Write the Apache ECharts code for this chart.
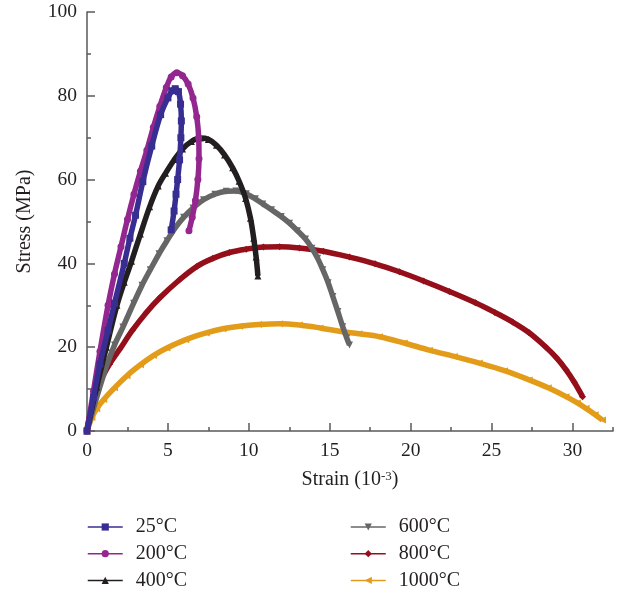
<!DOCTYPE html>
<html>
<head>
<meta charset="utf-8">
<script src="https://cdn.jsdelivr.net/npm/echarts@6/dist/echarts.min.js"></script>
<style>
  html, body { margin: 0; padding: 0; background: #ffffff; }
  #chart { width: 619px; height: 591px; }
</style>
</head>
<body>
<div id="chart"></div>
<script>
// Stress–strain curves of specimens after exposure to different temperatures.
// Each point is [strain (10^-3), stress (MPa)].
const seriesNames = ['25°C', '200°C', '400°C', '600°C', '800°C', '1000°C'];
const seriesColors = ['#382E92', '#93268F', '#231F20', '#666666', '#950F1A', '#E39C19'];
const seriesSymbols = ['rect', 'circle', 'triangle', 'triangle', 'diamond', 'triangle'];
const seriesSymbolRotate = [0, 0, 0, 180, 0, 90];

const curve25 = [
  [0, 0], [0.4, 8], [0.8, 16], [1.3, 24], [1.7, 30.5], [2.3, 40], [2.65, 46], [3.0, 51.5],
  [3.45, 59.5], [4.0, 68], [4.55, 75.5], [5.0, 79.5], [5.25, 81.2], [5.45, 81.7], [5.65, 81],
  [5.78, 78], [5.83, 74], [5.8, 70], [5.72, 64.7], [5.6, 60], [5.5, 56.5], [5.38, 52.5], [5.2, 48]
];
const curve200 = [
  [0, 0], [0.4, 9.5], [0.8, 19], [1.3, 30], [1.7, 37.5], [2.1, 44], [2.5, 50.5], [2.9, 56.5],
  [3.3, 62], [3.7, 67], [4.1, 72.5], [4.5, 77.5], [4.9, 82], [5.2, 84.5], [5.55, 85.5],
  [5.9, 84.8], [6.25, 82.8], [6.55, 79.5], [6.78, 75], [6.9, 70], [6.92, 65], [6.85, 60],
  [6.7, 55], [6.5, 51], [6.3, 47.8]
];
const curve400 = [
  [0, 0], [0.6, 10.5], [1.2, 20], [1.85, 30], [2.3, 35.5], [2.75, 40.5], [3.3, 47], [3.87, 53.5],
  [4.4, 58.5], [4.85, 61.5], [5.4, 64.8], [5.9, 67.3], [6.45, 69.1], [7.0, 69.9], [7.5, 69.6],
  [8.0, 68.2], [8.5, 65.9], [9.0, 62.8], [9.4, 59.6], [9.8, 55.5], [10.1, 50.8], [10.3, 46],
  [10.45, 41.5], [10.56, 37]
];
const curve600 = [
  [0, 0], [0.6, 8], [1.2, 15.4], [1.7, 20.5], [2.22, 24.8], [2.88, 30.5], [3.4, 34.8],
  [3.91, 38.5], [4.45, 42.3], [4.94, 45.4], [5.45, 48.5], [5.97, 51], [6.55, 53.2], [7.2, 55.2],
  [7.9, 56.5], [8.6, 57.2], [9.2, 57.3], [9.84, 56.6], [10.4, 55.4], [10.86, 54.2], [11.4, 52.8],
  [12.0, 51.2], [12.51, 49.6], [13.0, 47.8], [13.5, 45.8], [13.9, 43.6], [14.25, 41.2],
  [14.57, 38.5], [14.9, 35.4], [15.19, 32.1], [15.5, 28.5], [15.8, 24.9], [16.05, 22.2], [16.22, 20.5]
];
const curve800 = [
  [0, 0.5], [0.25, 5], [0.78, 11.4], [1.4, 16], [2.02, 19.5], [2.8, 24], [3.67, 28.3],
  [4.5, 31.8], [5.72, 36.1], [6.8, 39.3], [7.78, 41.2], [8.8, 42.6], [9.84, 43.4], [10.9, 43.9],
  [11.9, 44], [13.13, 43.7], [14.6, 42.9], [16.22, 41.5], [17.8, 39.9], [19.3, 38], [20.8, 35.8],
  [22.39, 33.3], [24.0, 30.6], [25.2, 28.3], [26.3, 26], [27.3, 23.5], [28.36, 20], [29.0, 17.5],
  [29.6, 14.6], [30.1, 11.7], [30.62, 8.2]
];
const curve1000 = [
  [0, 0], [0.3, 3.2], [0.6, 5.3], [1.03, 7.5], [1.7, 10.3], [2.47, 13.2], [3.3, 15.8], [4.1, 18],
  [4.94, 19.8], [6.1, 21.8], [7.37, 23.4], [8.4, 24.4], [9.43, 25], [10.6, 25.4], [11.9, 25.6],
  [13.13, 25.3], [14.4, 24.6], [15.6, 23.8], [16.8, 23.2], [18.07, 22.5], [19.6, 21], [21.15, 19.3],
  [22.7, 17.8], [24.24, 16.2], [25.8, 14.4], [27.32, 12.2], [28.5, 10.3], [29.6, 8.2], [30.3, 6.7],
  [30.83, 5.4], [31.4, 3.9], [31.85, 2.6]
];
const curves = [curve25, curve200, curve400, curve600, curve800, curve1000];

// Axis tick labels
const strainLabels = [0, 5, 10, 15, 20, 25, 30];
const stressLabels = [0, 20, 40, 60, 80, 100];

const axisColor = '#58595B';
const textColor = '#231F20';
const fontFamily = '"Liberation Serif", "DejaVu Serif", serif';

const chart = echarts.init(document.getElementById('chart'), null, { renderer: 'canvas' });

const gridBox = { left: 87, right: 6, top: 12, bottom: 160, outerBoundsMode: 'none' };

function legendBlock(names, left) {
  return {
    data: names,
    orient: 'vertical',
    left: left,
    top: 517,
    padding: 0,
    itemWidth: 35,
    itemHeight: 9,
    itemGap: 6.7,
    selectedMode: false,
    lineStyle: { width: 1.5 },
    textStyle: { fontFamily: fontFamily, fontSize: 20, color: textColor, lineHeight: 20, padding: [0, 0, 0, 8] }
  };
}

const option = {
  backgroundColor: '#ffffff',
  animation: false,
  textStyle: { fontFamily: fontFamily, color: textColor },
  grid: [
    Object.assign({}, gridBox),
    Object.assign({}, gridBox)
  ],
  legend: [
    legendBlock(seriesNames.slice(0, 3), 87),
    legendBlock(seriesNames.slice(3), 350)
  ],
  xAxis: [
    {
      gridIndex: 0,
      type: 'value',
      min: 0,
      max: 32.5,
      interval: 2.5,
      name: 'Strain (10{sup|-3})',
      nameLocation: 'middle',
      nameGap: 39,
      nameTextStyle: {
        fontFamily: fontFamily, fontSize: 20, color: textColor,
        rich: { sup: { fontFamily: fontFamily, fontSize: 13, color: textColor, verticalAlign: 'top', lineHeight: 13 } }
      },
      axisLine: { show: true, lineStyle: { color: axisColor, width: 1.5 } },
      axisTick: { show: true, inside: true, length: 4, lineStyle: { color: axisColor, width: 1.5 } },
      axisLabel: {
        customValues: strainLabels,
        margin: 10,
        fontFamily: fontFamily, fontSize: 19.5, color: textColor
      },
      splitLine: { show: false }
    },
    {
      gridIndex: 1,
      type: 'value',
      min: 0,
      max: 32.5,
      axisLine: { show: false },
      axisTick: { show: true, inside: true, length: 8, customValues: strainLabels, lineStyle: { color: axisColor, width: 1.5 } },
      axisLabel: { show: false },
      splitLine: { show: false }
    }
  ],
  yAxis: [
    {
      gridIndex: 0,
      type: 'value',
      min: 0,
      max: 100,
      interval: 20,
      name: 'Stress (MPa)',
      nameLocation: 'middle',
      nameGap: 52,
      nameTextStyle: { fontFamily: fontFamily, fontSize: 20, color: textColor },
      axisLine: { show: true, lineStyle: { color: axisColor, width: 1.5 } },
      axisTick: { show: true, inside: true, length: 8, lineStyle: { color: axisColor, width: 1.5 } },
      minorTick: { show: true, splitNumber: 2, length: 4, lineStyle: { color: axisColor, width: 1.5 } },
      axisLabel: { customValues: stressLabels, margin: 10, fontFamily: fontFamily, fontSize: 19.5, color: textColor },
      splitLine: { show: false },
      minorSplitLine: { show: false }
    },
    {
      gridIndex: 1,
      type: 'value',
      min: 0,
      max: 100,
      show: false
    }
  ],
  series: seriesNames.map(function (name, i) {
    return {
      name: name,
      type: 'line',
      xAxisIndex: 0,
      yAxisIndex: 0,
      data: curves[i],
      smooth: 0.35,
      showSymbol: true,
      symbol: seriesSymbols[i],
      symbolRotate: seriesSymbolRotate[i],
      symbolSize: 7,
      z: 10 - i,
      color: seriesColors[i],
      lineStyle: { color: seriesColors[i], width: 5.5 },
      itemStyle: { color: seriesColors[i] },
      emphasis: { disabled: true }
    };
  })
};

chart.setOption(option);
</script>
</body>
</html>
